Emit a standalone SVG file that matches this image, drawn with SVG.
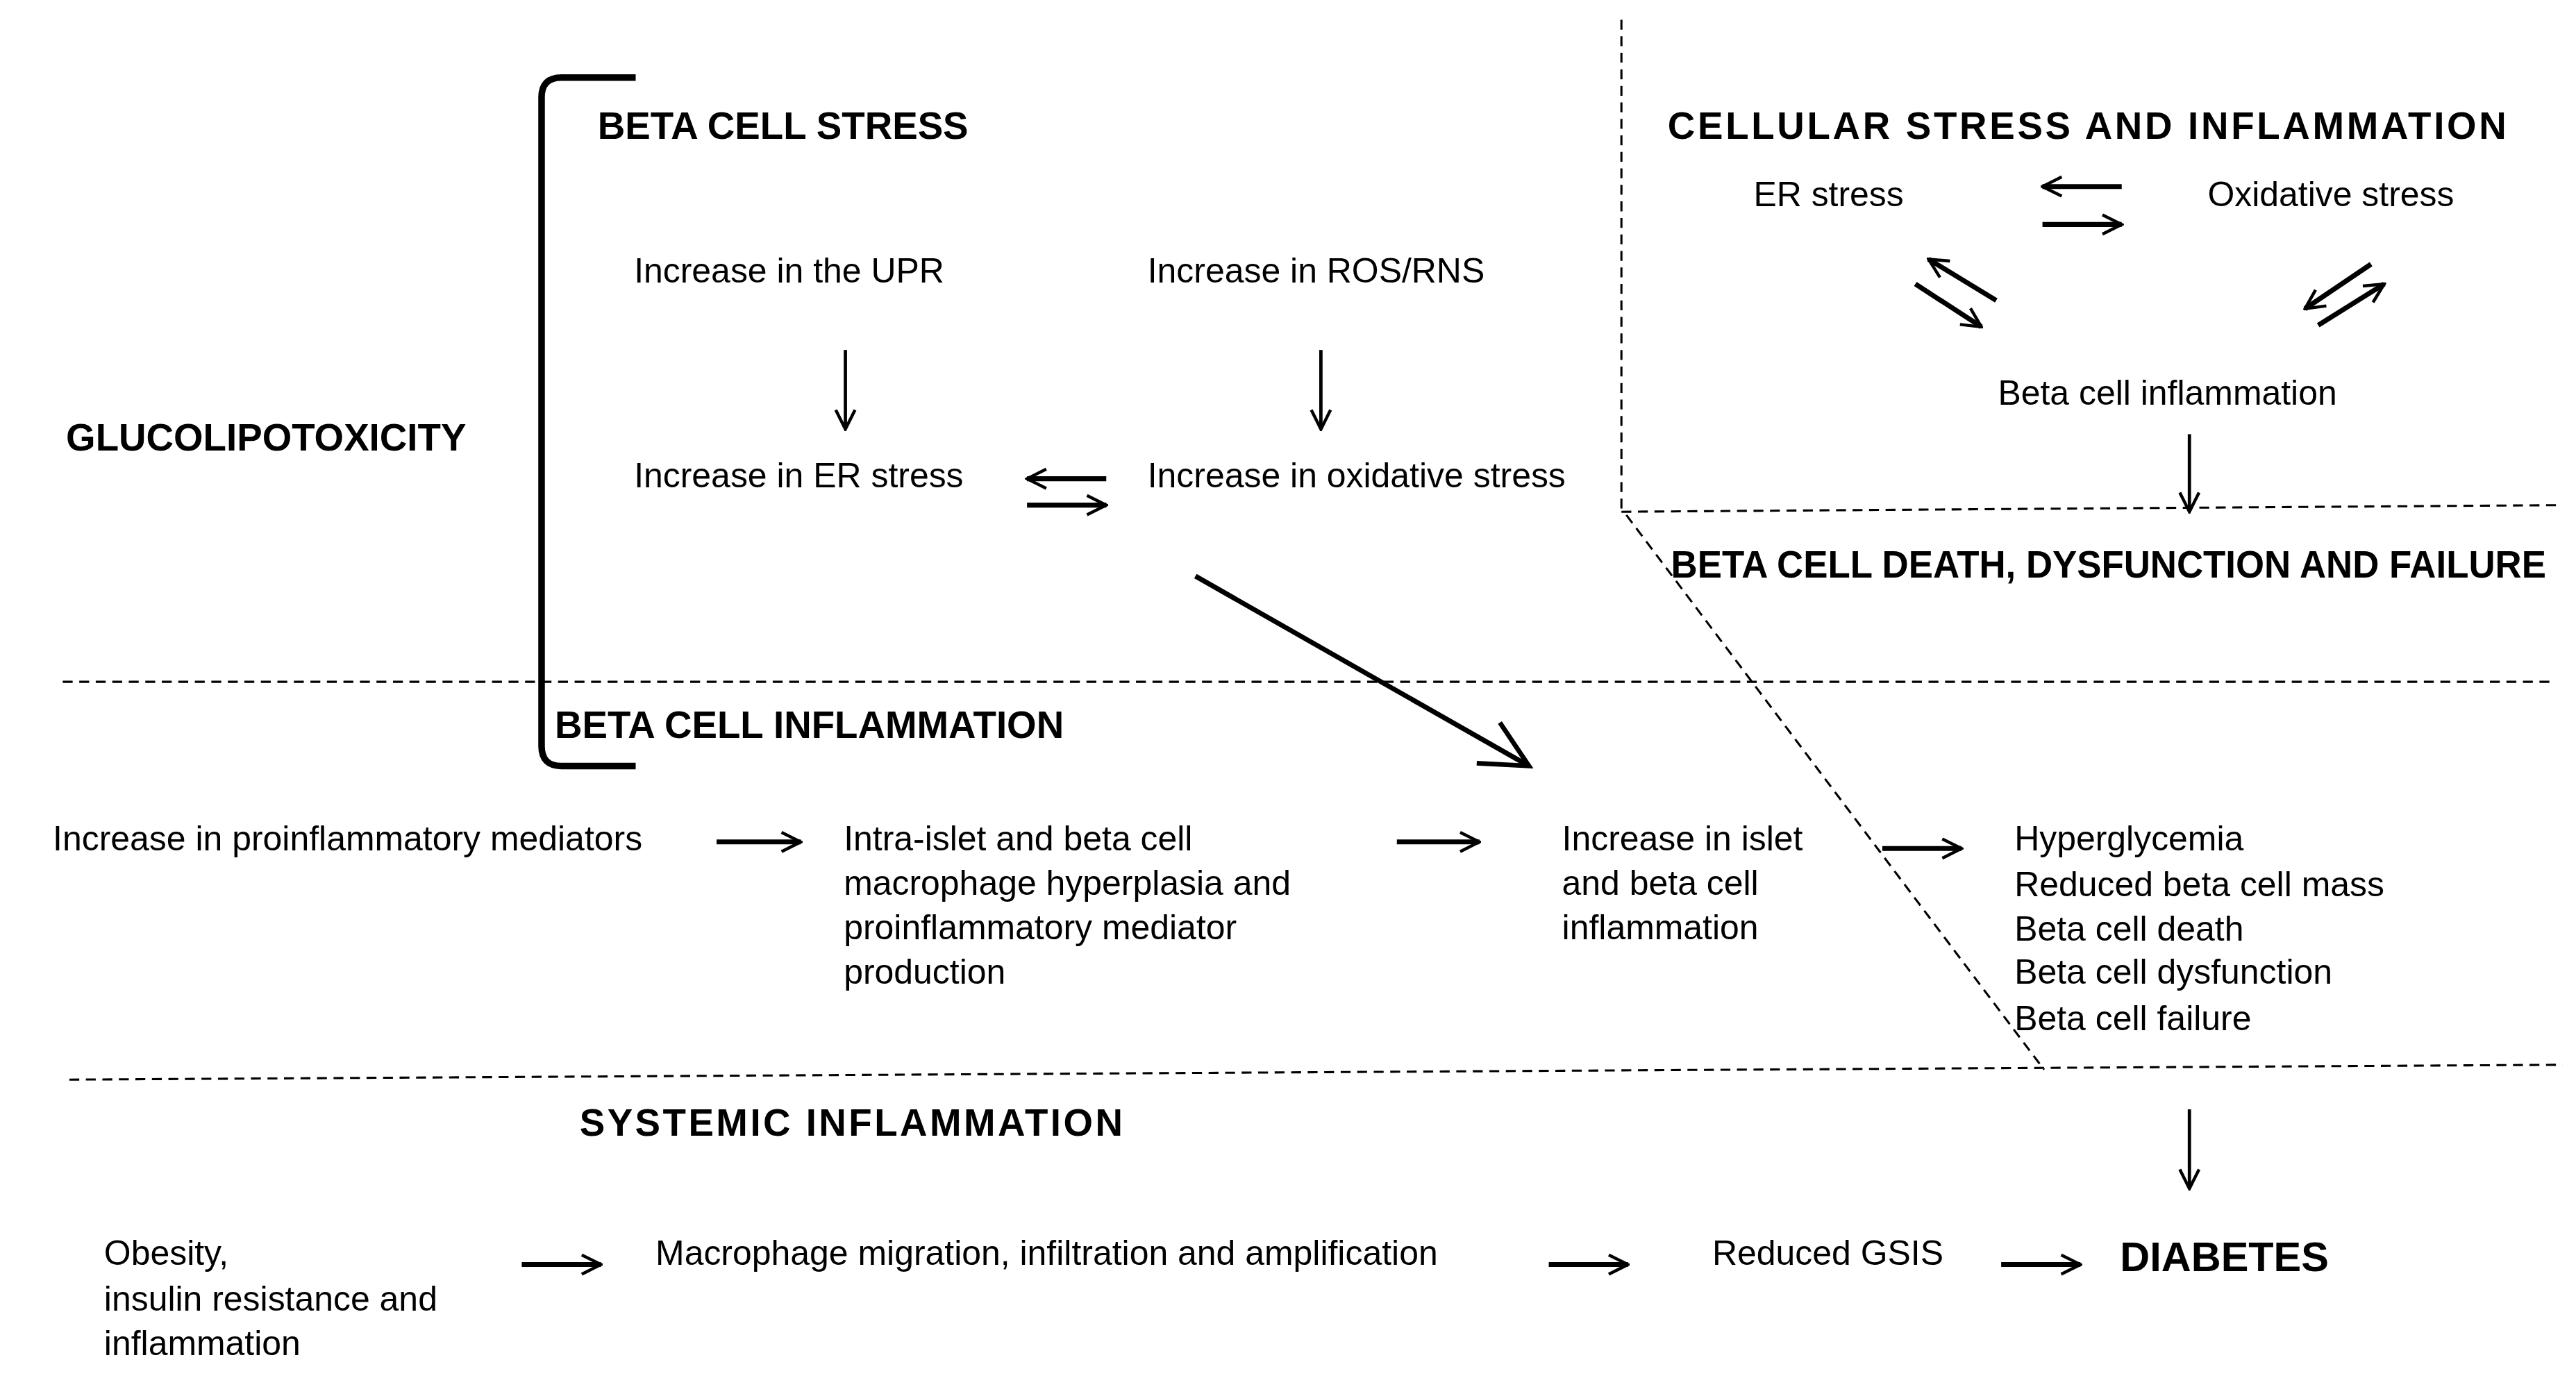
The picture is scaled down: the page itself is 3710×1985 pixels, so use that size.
<svg xmlns="http://www.w3.org/2000/svg" width="3710" height="1985" viewBox="0 0 3710 1985">
<style>
.t{font-family:"Liberation Sans",Arial,sans-serif;font-size:21px;fill:#000}
.h{font-family:"Liberation Sans",Arial,sans-serif;font-size:23px;font-weight:bold;fill:#000}
.d{fill:none;stroke:#000;stroke-width:1.3;stroke-dasharray:6 4}
.a{fill:none;stroke:#000;stroke-width:2;marker-end:url(#m)}
.b{fill:none;stroke:#000;stroke-width:3;marker-end:url(#m)}
</style>
<defs>
<marker id="m" viewBox="0 0 12 12" refX="11" refY="6" markerWidth="14" markerHeight="14" orient="auto" markerUnits="userSpaceOnUse"><path d="M1,1 L11,6 L1,11" fill="none" stroke="#000" stroke-width="1.6"/></marker>
<marker id="mb" viewBox="0 0 12 12" refX="11" refY="6" markerWidth="34" markerHeight="34" orient="auto" markerUnits="userSpaceOnUse"><path d="M1,1 L11,6 L1,11" fill="none" stroke="#000" stroke-width="1"/></marker>
</defs>
<rect width="3710" height="1985" fill="#fff"/>
<g transform="scale(2.378)">
<g id="dividers">
<path class="d" d="M982,12 V308"/>
<path class="d" d="M982,310 L1550,306"/>
<path class="d" d="M985,312 L1238,648"/>
<path class="d" d="M38,413 H1548"/>
<path class="d" d="M42,654 L1552,645"/>
</g>
<g id="bracket"><path d="M385,47 H340 Q328,47 328,59 V452 Q328,464 340,464 H385" fill="none" stroke="#000" stroke-width="4"/></g>
<g id="headings">
<text class="h" x="40" y="273">GLUCOLIPOTOXICITY</text>
<text class="h" x="362" y="84">BETA CELL STRESS</text>
<text class="h" x="1010" y="84" textLength="508" lengthAdjust="spacing">CELLULAR STRESS AND INFLAMMATION</text>
<text class="h" x="1012" y="350" textLength="530" lengthAdjust="spacingAndGlyphs">BETA CELL DEATH, DYSFUNCTION AND FAILURE</text>
<text class="h" x="336" y="447">BETA CELL INFLAMMATION</text>
<text class="h" x="351" y="688" textLength="329" lengthAdjust="spacing">SYSTEMIC INFLAMMATION</text>
</g>
<g id="n-upr"><text class="t" x="384" y="171">Increase in the UPR</text></g>
<g id="n-ros"><text class="t" x="695" y="171">Increase in ROS/RNS</text></g>
<g id="n-er"><text class="t" x="384" y="295">Increase in ER stress</text></g>
<g id="n-ox"><text class="t" x="695" y="295">Increase in oxidative stress</text></g>
<g id="n-er2"><text class="t" x="1062" y="125">ER stress</text></g>
<g id="n-ox2"><text class="t" x="1337" y="125">Oxidative stress</text></g>
<g id="n-bci"><text class="t" x="1210" y="245">Beta cell inflammation</text></g>
<g id="n-pro"><text class="t" x="32" y="515">Increase in proinflammatory mediators</text></g>
<g id="n-intra"><text class="t" x="511" y="515">Intra-islet and beta cell</text><text class="t" x="511" y="542">macrophage hyperplasia and</text><text class="t" x="511" y="569">proinflammatory mediator</text><text class="t" x="511" y="596">production</text></g>
<g id="n-islet"><text class="t" x="946" y="515">Increase in islet</text><text class="t" x="946" y="542">and beta cell</text><text class="t" x="946" y="569">inflammation</text></g>
<g id="n-out"><text class="t" x="1220" y="515">Hyperglycemia</text><text class="t" x="1220" y="543">Reduced beta cell mass</text><text class="t" x="1220" y="570">Beta cell death</text><text class="t" x="1220" y="596">Beta cell dysfunction</text><text class="t" x="1220" y="624">Beta cell failure</text></g>
<g id="n-obes"><text class="t" x="63" y="766">Obesity,</text><text class="t" x="63" y="794">insulin resistance and</text><text class="t" x="63" y="821">inflammation</text></g>
<g id="n-mac"><text class="t" x="397" y="766">Macrophage migration, infiltration and amplification</text></g>
<g id="n-gsis"><text class="t" x="1037" y="766">Reduced GSIS</text></g>
<g id="n-diab"><text class="h" x="1284" y="770" style="font-size:25px">DIABETES</text></g>
<g id="connectors">
<path class="a" d="M512,212 V260"/>
<path class="a" d="M800,212 V260"/>
<path class="b" d="M670,290 H622"/>
<path class="b" d="M622,306 H670"/>
<path class="b" d="M1285,113 H1237"/>
<path class="b" d="M1237,136 H1285"/>
<path class="b" d="M1209,182 L1168,157"/>
<path class="b" d="M1160,172 L1200,198"/>
<path class="b" d="M1436,160 L1396,187"/>
<path class="b" d="M1404,197 L1444,172"/>
<path class="a" d="M1326,263 V310"/>
<path d="M724,349 L926,464" fill="none" stroke="#000" stroke-width="3" marker-end="url(#mb)"/>
<path class="b" d="M434,510 H485"/>
<path class="b" d="M846,510 H896"/>
<path class="b" d="M1140,514 H1188"/>
<path class="a" d="M1326,672 V720"/>
<path class="b" d="M316,766 H364"/>
<path class="b" d="M938,766 H986"/>
<path class="b" d="M1212,766 H1260"/>
</g>
</g>
</svg>
